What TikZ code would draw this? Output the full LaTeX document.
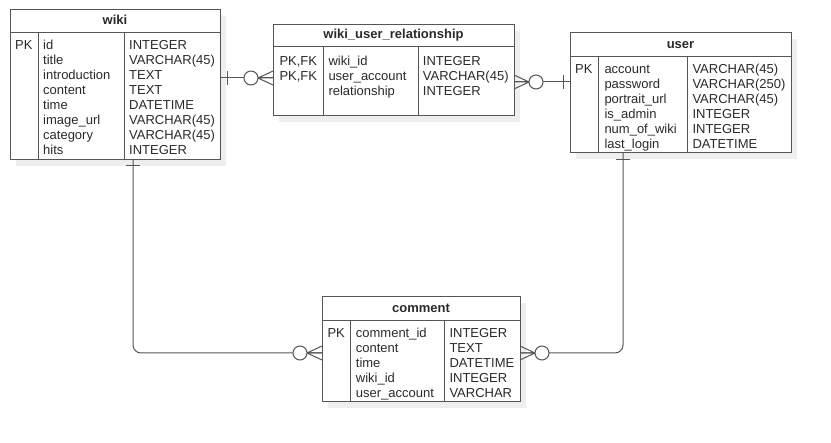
\documentclass[tikz,border=0pt]{standalone}
\usepackage{fontspec}
\setmainfont{Liberation Sans}
\usetikzlibrary{calc}
\definecolor{ln}{HTML}{555555}
\definecolor{tx}{HTML}{2A2A2A}
\definecolor{shd}{HTML}{EEEEEE}
\newcommand\ertable[9]{%
  \fill[shd] (#2+6,#3+6) rectangle (#4+6,#5+6);
  \node[tbl, minimum width={#4pt-#2pt}, minimum height={#5pt-#3pt}] (#1) at (#2,#3) {};
  \draw[tline] (#2,#6) -- (#4,#6) (#7,#6) -- (#7,#5) (#8,#6) -- (#8,#5);
  \node[hdr] (#1-title) at ({(#2+#4)/2},#6-8) {#9};
}
\newcommand\ercol[4]{%
  \foreach \t [count=\i] in {#4} {\node[cell] (#1-\i) at (#2,{#3+15*(\i-1)}) {\t};}
}
\begin{document}
\begin{tikzpicture}[x=1pt,y=-1pt,
  tbl/.style={draw=ln, line width=1pt, fill=white, inner sep=0pt, outer sep=0pt, anchor=north west},
  tline/.style={draw=ln, line width=1pt},
  cell/.style={inner sep=0pt, anchor=base west, text=tx, font=\fontsize{13}{15}\selectfont},
  hdr/.style={inner sep=0pt, anchor=base, text=tx, font=\bfseries\fontsize{13}{15}\selectfont},
  conn/.style={draw=ln, line width=1pt},
  ring/.style={draw=ln, line width=1pt, fill=white}]
\fill[white] (0,0) rectangle (831,443);
\useasboundingbox (0,0) rectangle (831,443);

% tables
\ertable{wiki}{10}{10}{220}{160}{33}{38}{124}{wiki}
\ercol{wikipk}{15}{49.3}{PK}
\ercol{wikin}{43}{49.3}{id,title,introduction,content,time,image\_url,category,hits}
\ercol{wikit}{129}{49.3}{INTEGER,VARCHAR(45),TEXT,TEXT,DATETIME,VARCHAR(45),VARCHAR(45),INTEGER}

\ertable{wur}{273}{25}{514}{116}{47}{323}{418}{wiki\_user\_relationship}
\ercol{wurpk}{279.3}{66}{{PK,FK},{PK,FK}}
\ercol{wurn}{328.3}{66}{wiki\_id,user\_account,relationship}
\ercol{wurt}{422.7}{66}{INTEGER,VARCHAR(45),INTEGER}

\ertable{user}{570}{33}{791}{153}{57}{598}{687}{user}
\ercol{userpk}{575}{74}{PK}
\ercol{usern}{604.3}{74}{account,password,portrait\_url,is\_admin,num\_of\_wiki,last\_login}
\ercol{usert}{692.3}{74}{VARCHAR(45),VARCHAR(250),VARCHAR(45),INTEGER,INTEGER,DATETIME}

\ertable{comment}{322}{297}{520}{402}{321}{350}{444}{comment}
\ercol{compk}{327.3}{337.3}{PK}
\ercol{comn}{355.7}{337.3}{comment\_id,content,time,wiki\_id,user\_account}
\ercol{comt}{449.3}{337.3}{INTEGER,TEXT,DATETIME,INTEGER,VARCHAR}

% connector levels
\coordinate (r1) at (0,78);
\coordinate (r2) at (0,82);
\coordinate (r3) at (0,353);
\coordinate (c3) at (133,0);
\coordinate (c4) at (623,0);

% wiki -- wiki_user_relationship
\coordinate (p1) at (wiki.east |- r1);
\coordinate (q1) at (wur.west |- r1);
\draw[conn] (p1) -- (q1);
\draw[conn] ($(p1)+(7,-7)$) -- ($(p1)+(7,7)$);
\draw[conn] ($(q1)+(-15,0)$) -- ($(q1)+(0,-7)$) ($(q1)+(-15,0)$) -- (q1) ($(q1)+(-15,0)$) -- ($(q1)+(0,7)$);
\draw[ring] ($(q1)+(-22,0)$) circle[radius=7pt];

% wiki_user_relationship -- user
\coordinate (p2) at (wur.east |- r2);
\coordinate (q2) at (user.west |- r2);
\draw[conn] (p2) -- (q2);
\draw[conn] ($(q2)+(-7,-7)$) -- ($(q2)+(-7,7)$);
\draw[conn] ($(p2)+(15,0)$) -- ($(p2)+(0,-7)$) ($(p2)+(15,0)$) -- (p2) ($(p2)+(15,0)$) -- ($(p2)+(0,7)$);
\draw[ring] ($(p2)+(22,0)$) circle[radius=7pt];

% wiki -- comment
\coordinate (p3) at (wiki.south -| c3);
\coordinate (q3) at (comment.west |- r3);
\draw[conn, rounded corners=8pt] (p3) |- (q3);
\draw[conn] ($(p3)+(-7,6)$) -- ($(p3)+(7,6)$);
\draw[conn] ($(q3)+(-15,0)$) -- ($(q3)+(0,-7)$) ($(q3)+(-15,0)$) -- (q3) ($(q3)+(-15,0)$) -- ($(q3)+(0,7)$);
\draw[ring] ($(q3)+(-22,0)$) circle[radius=7pt];

% user -- comment
\coordinate (p4) at (user.south -| c4);
\coordinate (q4) at (comment.east |- r3);
\draw[conn, rounded corners=8pt] (p4) |- (q4);
\draw[conn] ($(p4)+(-7,7)$) -- ($(p4)+(7,7)$);
\draw[conn] ($(q4)+(15,0)$) -- ($(q4)+(0,-7)$) ($(q4)+(15,0)$) -- (q4) ($(q4)+(15,0)$) -- ($(q4)+(0,7)$);
\draw[ring] ($(q4)+(22,0)$) circle[radius=7pt];
\end{tikzpicture}
\end{document}
